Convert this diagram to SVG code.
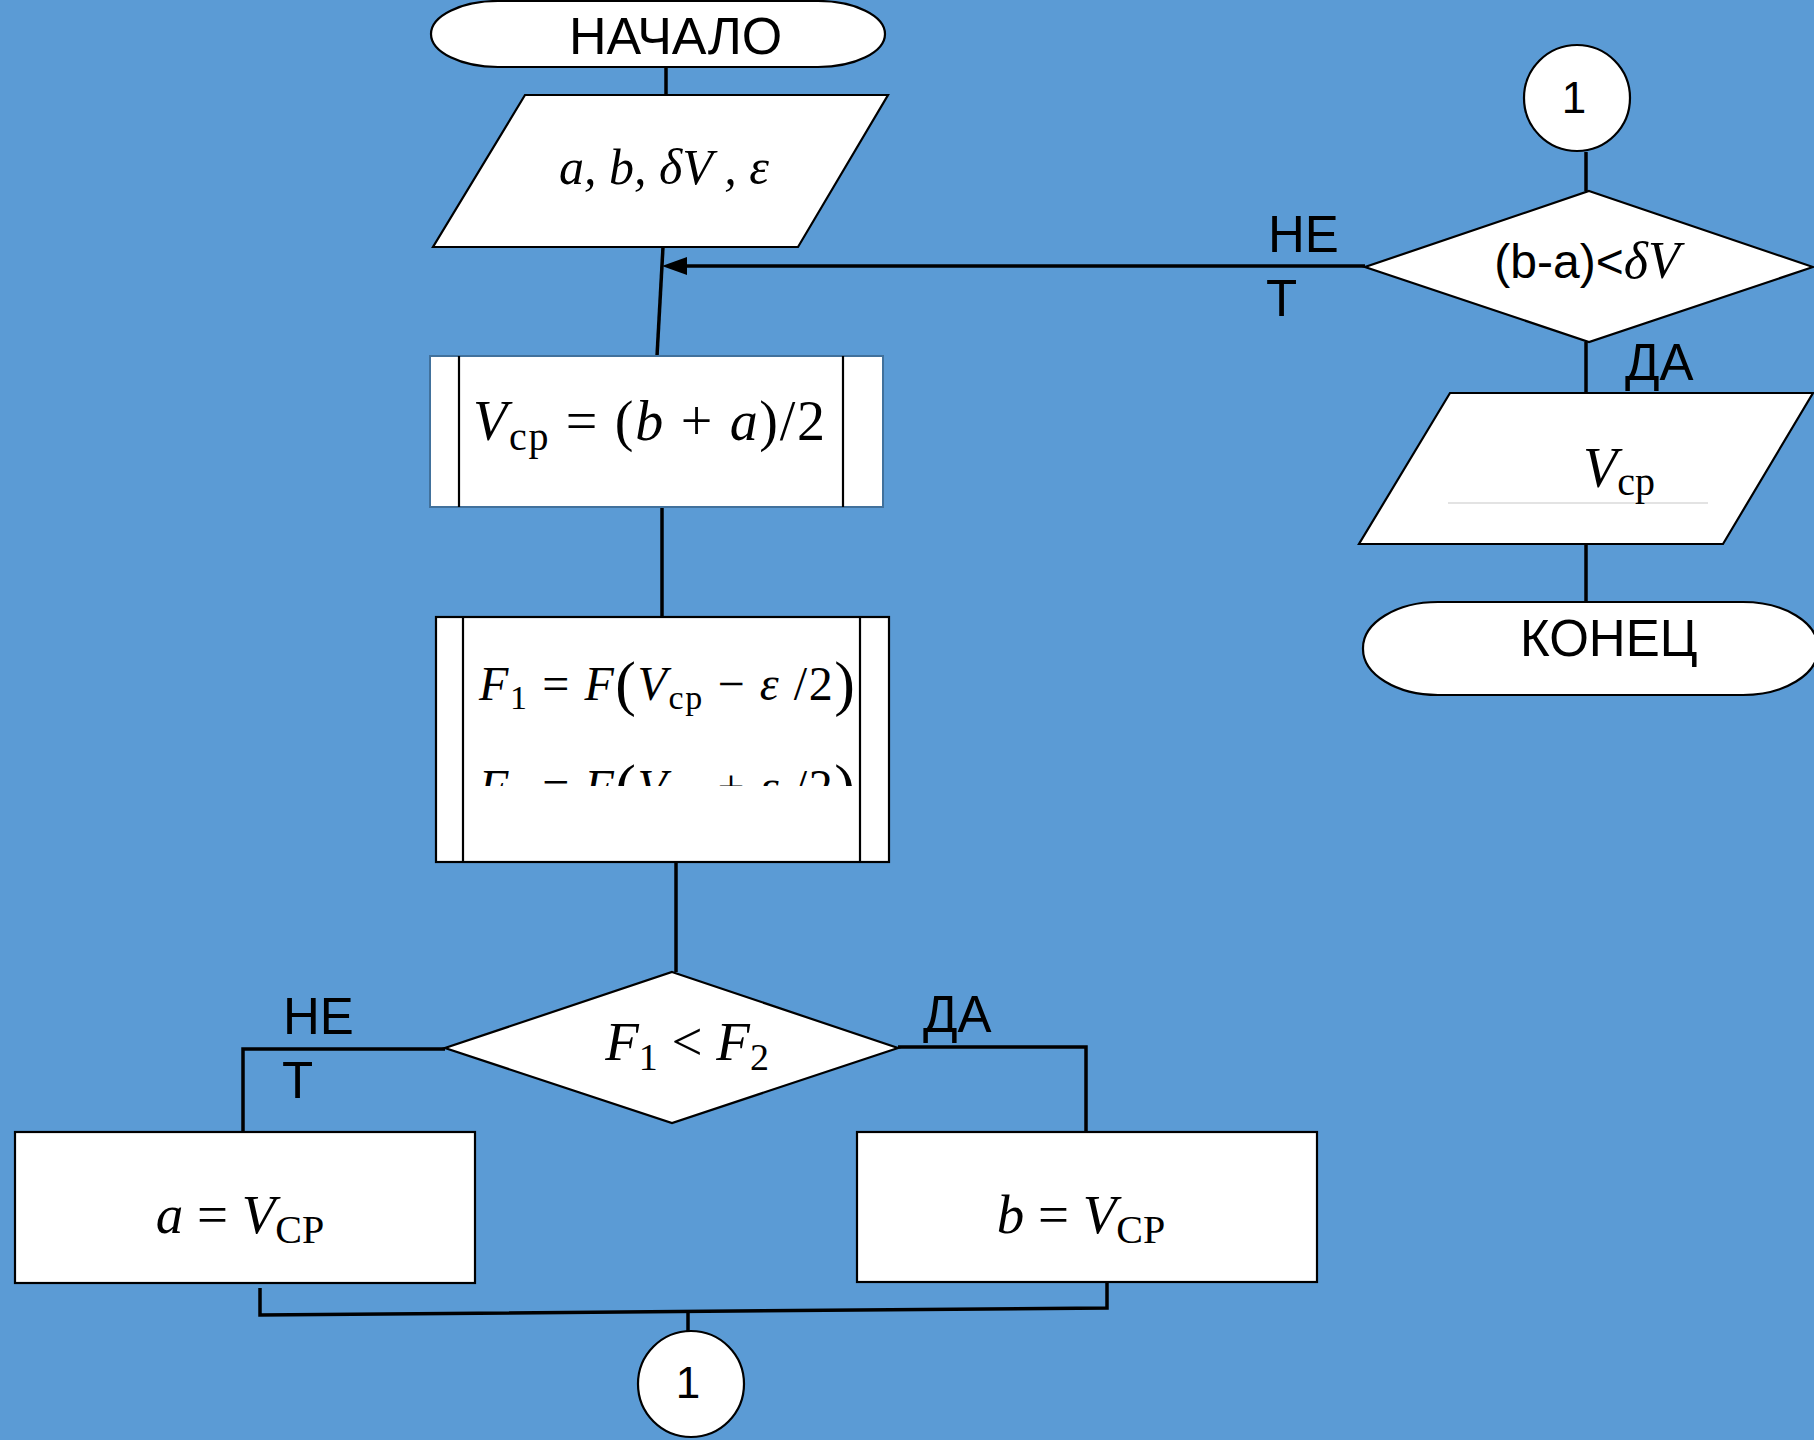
<svg xmlns="http://www.w3.org/2000/svg" width="1814" height="1440" viewBox="0 0 1814 1440">
<defs>
<style>
.bg{fill:#5B9BD5}
.shape{fill:#ffffff;stroke:#000000;stroke-width:2.2}
.inner{stroke:#000000;stroke-width:2.2;fill:none}
.conn{stroke:#000000;stroke-width:3.5;fill:none}
.lbl{font-family:"Liberation Sans",Arial,sans-serif;fill:#000000}
.math{font-family:"Liberation Serif","Times New Roman",serif;fill:#000000}
.it{font-style:italic}
</style>
<clipPath id="clipF"><rect x="464" y="619" width="395" height="167"/></clipPath>
</defs>
<rect class="bg" x="0" y="0" width="1814" height="1440"/>

<g id="connectors">
<line class="conn" x1="666" y1="67" x2="666" y2="95"/>
<line class="conn" x1="663" y1="247" x2="657" y2="356"/>
<line class="conn" x1="1365" y1="266" x2="686" y2="266"/>
<polygon points="662,266 687,257 687,275" fill="#000000"/>
<line class="conn" x1="662" y1="507" x2="662" y2="617"/>
<line class="conn" x1="676" y1="862" x2="676" y2="972"/>
<polyline class="conn" points="445,1049 243,1049 243,1132"/>
<polyline class="conn" points="898,1047 1086,1047 1086,1132"/>
<polyline class="conn" points="260,1288 260,1315 1107,1308 1107,1280"/>
<line class="conn" x1="688" y1="1312" x2="688" y2="1331"/>
<line class="conn" x1="1586" y1="152" x2="1586" y2="191"/>
<line class="conn" x1="1586" y1="342" x2="1586" y2="393"/>
<line class="conn" x1="1586" y1="544" x2="1586" y2="602"/>
</g>

<g id="start">
<rect class="shape" x="431" y="1" width="454" height="66" rx="67" ry="33"/>
<text class="lbl" x="569" y="54" font-size="52">НАЧАЛО</text>
</g>

<g id="input">
<polygon class="shape" points="525,95 888,95 798,247 433,247"/>
<text class="math it" x="664" y="184" font-size="50" text-anchor="middle">a, b, δV , ε</text>
</g>

<g id="calc-vcp">
<rect x="430" y="356" width="453" height="151" fill="#ffffff" stroke="#41719C" stroke-width="2"/>
<line class="inner" x1="459" y1="356" x2="459" y2="507"/>
<line class="inner" x1="843" y1="356" x2="843" y2="507"/>
<text class="math" x="473" y="440" font-size="56" textLength="352" lengthAdjust="spacing"><tspan class="it">V</tspan><tspan font-size="40" dy="10">ср</tspan><tspan dy="-10"> = (</tspan><tspan class="it">b</tspan> + <tspan class="it">a</tspan>)/2</text>
</g>

<g id="calc-f">
<rect class="shape" x="436" y="617" width="453" height="245"/>
<line class="inner" x1="463" y1="617" x2="463" y2="862"/>
<line class="inner" x1="860" y1="617" x2="860" y2="862"/>
<g clip-path="url(#clipF)">
<text class="math" x="479" y="700" font-size="48" textLength="376" lengthAdjust="spacing"><tspan class="it">F</tspan><tspan font-size="34" dy="9">1</tspan><tspan dy="-9"> = </tspan><tspan class="it">F</tspan><tspan font-size="62" dy="4">(</tspan><tspan class="it" dy="-4">V</tspan><tspan font-size="34" dy="9">ср</tspan><tspan dy="-9"> − </tspan><tspan class="it">ε</tspan> /2<tspan font-size="62" dy="4">)</tspan></text>
<text class="math" x="479" y="803" font-size="48" textLength="376" lengthAdjust="spacing"><tspan class="it">F</tspan><tspan font-size="34" dy="9">2</tspan><tspan dy="-9"> = </tspan><tspan class="it">F</tspan><tspan font-size="62" dy="4">(</tspan><tspan class="it" dy="-4">V</tspan><tspan font-size="34" dy="9">ср</tspan><tspan dy="-9"> + </tspan><tspan class="it">ε</tspan> /2<tspan font-size="62" dy="4">)</tspan></text>
</g>
</g>

<g id="decision-f">
<polygon class="shape" points="672,972 898,1048 672,1123 445,1048"/>
<text class="math" x="687" y="1060" font-size="55" text-anchor="middle"><tspan class="it">F</tspan><tspan font-size="38" dy="10">1</tspan><tspan dy="-10"> &lt; </tspan><tspan class="it">F</tspan><tspan font-size="38" dy="10">2</tspan></text>
<text class="lbl" x="283" y="1034" font-size="51">НЕ</text>
<text class="lbl" x="282" y="1098" font-size="51">Т</text>
<text class="lbl" x="923" y="1032" font-size="51">ДА</text>
</g>

<g id="assign-a">
<rect class="shape" x="15" y="1132" width="460" height="151"/>
<text class="math" x="240" y="1233" font-size="55" text-anchor="middle"><tspan class="it">a</tspan> = <tspan class="it">V</tspan><tspan font-size="40" dy="10">CP</tspan></text>
</g>

<g id="assign-b">
<rect class="shape" x="857" y="1132" width="460" height="150"/>
<text class="math" x="1081" y="1233" font-size="55" text-anchor="middle"><tspan class="it">b</tspan> = <tspan class="it">V</tspan><tspan font-size="40" dy="10">CP</tspan></text>
</g>

<g id="connector-out">
<circle class="shape" cx="691" cy="1384" r="53"/>
<text class="lbl" x="688" y="1398" font-size="44" text-anchor="middle">1</text>
</g>

<g id="connector-in">
<circle class="shape" cx="1577" cy="98" r="53"/>
<text class="lbl" x="1574" y="113" font-size="44" text-anchor="middle">1</text>
</g>

<g id="decision-ba">
<polygon class="shape" points="1589,191 1813,267 1589,342 1365,267"/>
<text x="1587" y="278" text-anchor="middle"><tspan class="lbl" font-size="48">(b-a)&lt;</tspan><tspan class="math it" font-size="52">δV</tspan></text>
<text class="lbl" x="1268" y="252" font-size="51">НЕ</text>
<text class="lbl" x="1266" y="316" font-size="51">Т</text>
<text class="lbl" x="1625" y="380" font-size="51">ДА</text>
</g>

<g id="output">
<polygon class="shape" points="1450,393 1813,393 1723,544 1359,544"/>
<line x1="1448" y1="503" x2="1708" y2="503" stroke="#c8c8c8" stroke-width="1.2"/>
<text class="math" x="1583" y="487" font-size="56"><tspan class="it">V</tspan><tspan font-size="40" dy="8">ср</tspan></text>
</g>

<g id="end">
<rect class="shape" x="1363" y="602" width="455" height="93" rx="75" ry="46"/>
<text class="lbl" x="1520" y="656" font-size="51">КОНЕЦ</text>
</g>
</svg>
